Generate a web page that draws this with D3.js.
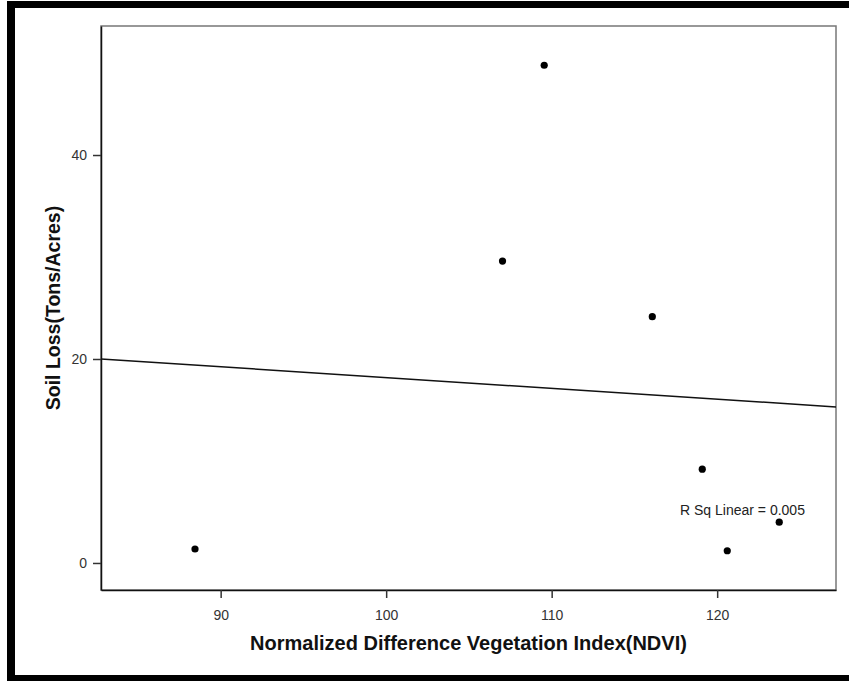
<!DOCTYPE html>
<html>
<head>
<meta charset="utf-8">
<script src="https://cdn.jsdelivr.net/npm/d3@7"></script>
<style>
    html, body { margin: 0; padding: 0; background: #fff; }
    svg { display: block; font-family: "Liberation Sans", Arial, sans-serif; }
</style>
</head>
<body>
<div id="chart"></div>
<script>
// data
const ndvi = [88.45, 107.03, 109.55, 116.08, 119.1, 120.61, 123.75];
const soilLoss = [1.37, 29.6, 48.8, 24.15, 9.2, 1.2, 4.0];
const xTicks = [90, 100, 110, 120];
const yTicks = [0, 20, 40];
const xDomain = [82.77, 127.18];
const yDomain = [-2.65, 52.65];
// fit line values at the two ends of the x domain
const fitY = [20.0, 15.3];
const rSqLabel = "R Sq Linear = 0.005";

const width = 849,
    height = 681;
const margin = { top: 26, right: 13, bottom: 91, left: 101 };

const svg = d3
    .select("#chart")
    .append("svg")
    .attr("width", width)
    .attr("height", height);

// black picture frame (top, left, bottom)
svg.append("rect").attr("x", 7).attr("y", 1).attr("width", width - 7).attr("height", 7).attr("fill", "#000");
svg.append("rect").attr("x", 7).attr("y", 1).attr("width", 8).attr("height", height - 1).attr("fill", "#000");
svg.append("rect").attr("x", 7).attr("y", 675).attr("width", width - 7).attr("height", 6).attr("fill", "#000");

const xScale = d3
    .scaleLinear()
    .domain(xDomain)
    .range([margin.left, width - margin.right]);
const yScale = d3
    .scaleLinear()
    .domain(yDomain)
    .range([height - margin.bottom, margin.top]);

// plot frame
svg.append("rect")
    .attr("x", margin.left)
    .attr("y", margin.top)
    .attr("width", width - margin.right - margin.left)
    .attr("height", height - margin.bottom - margin.top)
    .attr("fill", "none")
    .attr("stroke", "#777")
    .attr("stroke-width", 1.5);

const xAxis = svg
    .append("g")
    .attr("transform", `translate(0, ${height - margin.bottom})`)
    .call(d3.axisBottom(xScale).tickValues(xTicks).tickSize(8).tickPadding(12).tickSizeOuter(0));

const yAxis = svg
    .append("g")
    .attr("transform", `translate(${margin.left}, 0)`)
    .call(d3.axisLeft(yScale).tickValues(yTicks).tickSize(8).tickPadding(6).tickSizeOuter(0));

[xAxis, yAxis].forEach((g) => {
    g.select(".domain").attr("stroke", "#111").attr("stroke-width", 1.5);
    g.selectAll(".tick line").attr("stroke", "#333").attr("stroke-width", 1.5);
    g.selectAll(".tick text")
        .attr("fill", "#333")
        .style("font-size", "14px")
        .style("font-family", "Liberation Sans, Arial, sans-serif");
});

// fit line
svg.append("line")
    .attr("x1", xScale(xDomain[0]))
    .attr("y1", yScale(fitY[0]))
    .attr("x2", xScale(xDomain[1]))
    .attr("y2", yScale(fitY[1]))
    .attr("stroke", "#111")
    .attr("stroke-width", 1.5);

// points
svg.append("g")
    .selectAll("circle")
    .data(ndvi.map((x, i) => ({ x, y: soilLoss[i] })))
    .join("circle")
    .attr("cx", (d) => xScale(d.x))
    .attr("cy", (d) => yScale(d.y))
    .attr("r", 3.6)
    .attr("fill", "#000");

svg.append("text")
    .attr("x", 680)
    .attr("y", 515)
    .style("font-size", "14px")
    .attr("fill", "#222")
    .text(rSqLabel);

// axis titles
svg.append("text")
    .attr("x", (margin.left + width - margin.right) / 2)
    .attr("y", 650)
    .attr("text-anchor", "middle")
    .style("font-size", "20px")
    .style("font-weight", "bold")
    .attr("fill", "#111")
    .text("Normalized Difference Vegetation Index(NDVI)");

svg.append("text")
    .attr("transform", `translate(60, ${(margin.top + height - margin.bottom) / 2}) rotate(-90)`)
    .attr("text-anchor", "middle")
    .style("font-size", "19.5px")
    .style("font-weight", "bold")
    .attr("fill", "#111")
    .text("Soil Loss(Tons/Acres)");
</script>
</body>
</html>
